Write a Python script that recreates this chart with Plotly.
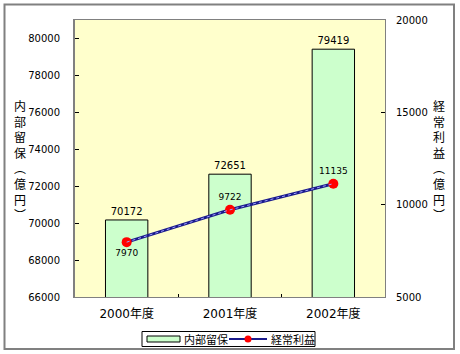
import plotly.graph_objects as go

categories = ["2000年度", "2001年度", "2002年度"]
retained = [70172, 72651, 79419]
profit = [7970, 9722, 11135]
left_ticks = [66000, 68000, 70000, 72000, 74000, 76000, 78000, 80000]
right_ticks = [5000, 10000, 15000, 20000]
bar_name = "内部留保"
line_name = "経常利益"
left_title = "内部留保（億円）"
right_title = "経常利益（億円）"

NUM = "DejaVu Sans, Noto Sans CJK JP"
CJK = "Noto Sans CJK JP"

W, H = 460, 354
ML, MR, MT, MB = 75, 75, 20, 57
PW, PH = W - ML - MR, H - MT - MB

def px(x):  # pixel -> paper x
    return (x - ML) / PW

def py(y):  # pixel -> paper y
    return (H - MB - y) / PH

def vertical(s):
    s = s.replace("（", "︵").replace("）", "︶")
    return "<br>".join(list(s))

fig = go.Figure()
fig.add_trace(go.Bar(
    x=categories, y=retained, name=bar_name, width=0.41,
    marker=dict(color="#CCFFCC", line=dict(color="black", width=1)),
    text=[str(v) for v in retained], textposition="outside",
    textfont=dict(family=NUM, size=10, color="black"), cliponaxis=False,
))
fig.add_trace(go.Scatter(
    x=categories, y=profit, name=line_name, yaxis="y2", mode="lines+markers+text",
    line=dict(color="#1a1a8c", width=3),
    marker=dict(color="#FF0000", size=10),
    text=[str(v) for v in profit],
    textposition=["bottom center", "top center", "top center"],
    textfont=dict(family=NUM, size=9, color="black"),
))
fig.add_trace(go.Scatter(
    x=categories, y=profit, yaxis="y2", mode="lines", showlegend=False, hoverinfo="skip",
    line=dict(color="#9fa0ff", width=1, dash="dot"),
))

shapes = [
    # outer chart border
    dict(type="rect", xref="paper", yref="paper",
         x0=px(4.5), x1=px(454), y0=py(349), y1=py(4.5),
         line=dict(color="#808080", width=2), layer="below"),
    # legend box
    dict(type="rect", xref="paper", yref="paper",
         x0=px(142), x1=px(315), y0=py(346.5), y1=py(331.5),
         line=dict(color="black", width=1), fillcolor="white"),
    # legend bar sample
    dict(type="rect", xref="paper", yref="paper",
         x0=px(147), x1=px(180), y0=py(342), y1=py(336),
         line=dict(color="black", width=1), fillcolor="#CCFFCC"),
    # legend line sample
    dict(type="line", xref="paper", yref="paper",
         x0=px(229), x1=px(267), y0=py(339), y1=py(339),
         line=dict(color="#1a1a8c", width=2)),
    dict(type="circle", xref="paper", yref="paper",
         x0=px(244.5), x1=px(251.5), y0=py(342.5), y1=py(335.5),
         line=dict(color="#FF0000", width=0), fillcolor="#FF0000"),
]

annotations = [
    dict(text=vertical(left_title), xref="paper", yref="paper",
         x=px(20), y=py(160), xanchor="center", yanchor="middle",
         showarrow=False, width=14,
         font=dict(family=CJK, size=12, color="black"), align="center"),
    dict(text=vertical(right_title), xref="paper", yref="paper",
         x=px(439), y=py(160), xanchor="center", yanchor="middle",
         showarrow=False, width=14,
         font=dict(family=CJK, size=12, color="black"), align="center"),
    dict(text=bar_name, xref="paper", yref="paper", x=px(182), y=py(339),
         xanchor="left", yanchor="middle", showarrow=False,
         font=dict(family=CJK, size=11, color="black")),
    dict(text=line_name, xref="paper", yref="paper", x=px(269), y=py(339),
         xanchor="left", yanchor="middle", showarrow=False,
         font=dict(family=CJK, size=11, color="black")),
]

fig.update_layout(
    width=W, height=H,
    margin=dict(l=ML, r=MR, t=MT, b=MB, autoexpand=False),
    paper_bgcolor="white", plot_bgcolor="#FFFFCC",
    showlegend=False,
    xaxis=dict(showline=True, linecolor="#808080", linewidth=1, mirror=True,
               ticks="inside", ticklen=3, tickcolor="black", tickson="boundaries",
               tickfont=dict(family=NUM, size=12, color="black"),
               ticklabelstandoff=6, showgrid=False),
    yaxis=dict(range=[66000, 81000], tickvals=left_ticks,
               ticktext=[str(v) for v in left_ticks], showline=True,
               linecolor="#808080", linewidth=2, ticks="inside", ticklen=4,
               tickcolor="black", showgrid=False, zeroline=False,
               tickfont=dict(family=NUM, size=10, color="black"),
               ticklabelstandoff=11),
    yaxis2=dict(range=[5000, 20000], tickvals=right_ticks,
                ticktext=[str(v) for v in right_ticks], overlaying="y", side="right",
                showline=True, linecolor="#808080", linewidth=1, ticks="inside",
                ticklen=4, tickcolor="black", showgrid=False, zeroline=False,
                tickfont=dict(family=NUM, size=10, color="black"),
                ticklabelstandoff=8),
    annotations=annotations,
    shapes=shapes,
)

fig.write_html("out.html")
